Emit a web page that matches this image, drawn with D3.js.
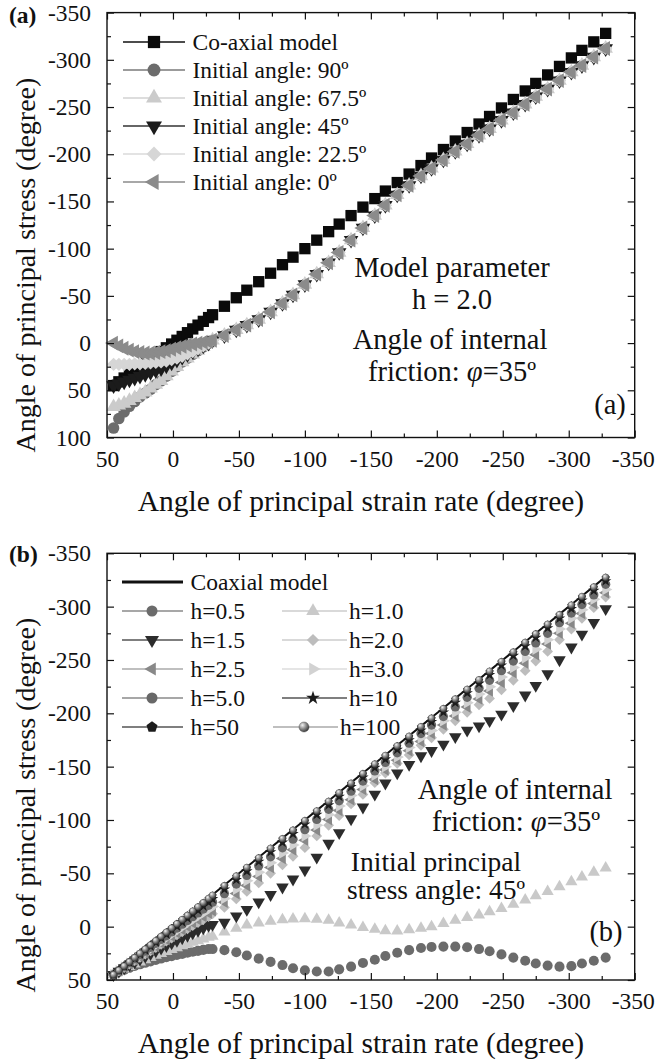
<!DOCTYPE html>
<html><head><meta charset="utf-8">
<script src="https://cdn.jsdelivr.net/npm/d3@7/dist/d3.min.js"></script>
<style>html,body{margin:0;padding:0;background:#fff;}</style>
</head><body>
<svg id="chart" width="655" height="1062" xmlns="http://www.w3.org/2000/svg"></svg>
<script>
// ---------------- DATA ----------------
// Angle of principal strain rate (x), shared by every series
const strainAngle = [45,41,37,33,29,25,21,17,13,9,5,1,-3,-7,-11,-15,-19,-23,-27,
  -30,-39,-48,-56,-65,-74,-83,-91,-100,-109,-118,-126,-135,-144,-153,-161,-170,-179,-188,
  -196,-205,-214,-223,-232,-240,-249,-258,-267,-275,-284,-293,-302,-310,-319,-328];
// Co-axial model: stress angle equals strain-rate angle
const coaxialStress = [45,41,37,33,29,25,21,17,13,9,5,1,-3,-7,-11,-15,-19,-23,-27,
  -30,-39,-48,-56,-65,-74,-83,-91,-100,-109,-118,-126,-135,-144,-153,-161,-170,-179,-188,
  -196,-205,-214,-223,-232,-240,-249,-258,-267,-275,-284,-293,-302,-310,-319,-328];

// Panel (a): h = 2.0, different initial angles (all converge onto one curve)
const convergedTailA = [-3,-8,-14,-19,-25,-33,-42,-51,-62,-73,-85,-96,-109,-122,-135,-146,-157,
  -167,-177,-185,-194,-203,-211,-220,-227,-236,-244,-253,-261,-269,-278,-287,-294,-303,-312];
const init90  = [90,80,73,67,62,57,53,49,44,40,35,30,25,20,16,12,8,4,0, ...convergedTailA];
const init675 = [67.5,66,64,61,58,55,52,48,44,40,35,30,25,20,16,12,8,4,0, ...convergedTailA];
const init45  = [45,43,41,39,37,35,33,31,29,27,24,21,18,15,12,9,6,3,0, ...convergedTailA];
const init225 = [22.5,22.5,22.5,22.5,22,22,21.5,21,20.5,20,19,17.5,16,14,11.5,9,6,3,0, ...convergedTailA];
const init0   = [0,3,5.5,7.5,9,10,10.5,10.5,10,9,8,6.5,5,3.5,2,1,0,-1,-1.5, ...convergedTailA];

// Panel (b): initial angle 45, different h
const h05  = [45,42.5,40.5,38.6,36.9,35.3,33.9,32.5,31.1,29.9,28.7,27.6,26.5,25.5,24.5,23.5,22.7,21.8,21,
  21,22,24,27,30,33,36,39,41,42,42,40,37.5,34,31,27.5,24.5,22,20,19,18.7,18.7,19.3,21,23,26,29,32,34.5,36.5,37.5,37,34.5,32,29];
const h10  = [45,42.1,39.7,37.3,35.1,33,30.9,28.9,26.9,25.1,23.3,21.5,19.8,18,16.4,14.7,13.1,11.6,10,
  9,5,1.5,-1.5,-3.5,-5,-6.5,-7.2,-7.5,-7,-6,-3.5,-1.5,0.7,2.5,3.8,4,3,1.5,0,-3,-6,-8.5,-11,-14,-17,-21,-25,-29,-33,-37.5,-42,-46.5,-51,-55];
const h15  = [45,41.8,38.9,36,33.3,30.6,28,25.4,22.8,20.3,17.8,15.4,13,10.6,8.2,5.9,3.6,1.3,-1,
  -2,-4,-10,-16,-23,-30,-37,-44.5,-53,-65,-78,-88,-101,-112,-124,-134.5,-144,-152,-160,-165,-171,-178,-184,-188,-193,-199,-207,-217,-226,-237,-250,-262,-274,-285,-298];
const h20  = [45,41.5,38.3,35,31.9,28.8,25.7,22.6,19.6,16.6,13.6,10.7,7.8,4.8,2,-0.9,-3.8,-6.7,-9.5,
  -12,-18,-26,-33,-41,-50,-58,-66,-74,-85,-95,-104,-115,-124,-135,-144,-153,-161,-170,-177,-185,-193,-201,-208,-214,-222,-231,-240,-249,-258,-269,-279,-289,-299,-309];
const h25  = [45,41.4,38,34.7,31.4,28.1,24.9,21.7,18.5,15.3,12.2,9,5.9,2.8,-0.3,-3.4,-6.4,-9.5,-12.5,
  -15,-23,-31,-38.5,-47,-55.5,-64,-72,-81,-90.5,-100.5,-109,-119,-128.5,-138,-147,-156,-165,-173.5,-181,-189,-197.5,-206,-213.5,-221,-229,-238,-247,-255,-265,-275,-284.5,-293.5,-303,-313];
const h30  = [45,41.3,37.8,34.3,30.8,27.4,23.9,20.5,17.1,13.8,10.4,7.1,3.8,0.4,-2.9,-6.2,-9.5,-12.7,-16,
  -19,-26.5,-35,-43,-51,-60,-69,-76.5,-85,-95,-105,-113,-123,-132,-142,-150,-159,-168,-177,-184,-193,-201,-210,-218,-225,-234,-243,-252,-260,-269,-279,-289,-297,-307,-316];
const h50  = [45,41.2,37.5,33.8,30.1,26.5,22.9,19.3,15.6,12,8.5,4.9,1.3,-2.3,-5.8,-9.4,-12.9,-16.5,-20,
  -23,-31,-40,-48,-57,-65.5,-74,-82,-91,-100.5,-110,-118,-127,-136.5,-146,-154,-163,-172,-181,-189,-197,-206,-215,-223.5,-231,-240,-249,-258,-266,-275,-285,-294,-302,-311,-321];
const h100 = [45,41.1,37.3,33.5,29.7,25.9,22.1,18.3,14.5,10.7,7,3.2,-0.5,-4.3,-8,-11.8,-15.5,-19.3,-23,
  -26,-35,-44,-52,-61,-70,-79,-87,-96,-105,-114,-122,-131,-140,-149,-157,-166,-175,-184,-192,-201,-210,-219,-228,-236,-245,-254,-263,-271,-280,-289,-298,-306,-315,-324];
const h500 = [45,41,37.1,33.1,29.2,25.2,21.3,17.3,13.4,9.4,5.5,1.6,-2.4,-6.3,-10.3,-14.2,-18.1,-22.1,-26,
  -29,-38,-47,-55,-64,-73,-82,-90,-99,-108,-117,-125,-134,-143,-152,-160,-169,-178,-187,-195,-204,-213,-222,-231,-239,-248,-257,-266,-274,-283,-292,-301,-309,-318,-327];
const h1000 = [45,41,37,33.1,29.1,25.1,21.1,17.2,13.2,9.2,5.2,1.3,-2.7,-6.7,-10.6,-14.6,-18.6,-22.5,-26.5,
  -29.5,-38.5,-47.5,-55.5,-64.5,-73.5,-82.5,-90.5,-99.5,-108.5,-117.5,-125.5,-134.5,-143.5,-152.5,-160.5,-169.5,-178.5,-187.5,-195.5,-204.5,-213.5,-222.5,-231.5,-239.5,-248.5,-257.5,-266.5,-274.5,-283.5,-292.5,-301.5,-309.5,-318.5,-327.5];

// Tick labels
const xTicks = [50,0,-50,-100,-150,-200,-250,-300,-350];
const xMinorTicks = [25,-25,-75,-125,-175,-225,-275,-325];
const yTicksA = [-350,-300,-250,-200,-150,-100,-50,0,50,100];
const yMinorTicksA = [-325,-275,-225,-175,-125,-75,-25,25,75];
const yTicksB = [-350,-300,-250,-200,-150,-100,-50,0,50];
const yMinorTicksB = [-325,-275,-225,-175,-125,-75,-25,25];

const legendA = ["Co-axial model","Initial angle: 90º","Initial angle: 67.5º","Initial angle: 45º","Initial angle: 22.5º","Initial angle: 0º"];
const legendB = ["Coaxial model","h=0.5","h=1.0","h=1.5","h=2.0","h=2.5","h=3.0","h=5.0","h=10","h=50","h=100"];
const xTitle = "Angle of principal strain rate (degree)";
const yTitle = "Angle of principal stress (degree)";

// ---------------- DRAWING ----------------
const FONT = '"Liberation Serif","Times New Roman",Times,serif';
const svg = d3.select("#chart");
const defs = svg.append("defs");
const grad = defs.append("radialGradient").attr("id","sphere").attr("cx","35%").attr("cy","32%").attr("r","70%");
grad.append("stop").attr("offset","0%").attr("stop-color","#f2f2f2");
grad.append("stop").attr("offset","45%").attr("stop-color","#9a9a9a");
grad.append("stop").attr("offset","100%").attr("stop-color","#3a3a3a");

const symRhombus = {draw(c,s){const r=Math.sqrt(s/2);c.moveTo(0,-r);c.lineTo(r,0);c.lineTo(0,r);c.lineTo(-r,0);c.closePath();}};
const symPentagon = {draw(c,s){const r=Math.sqrt(s/2.3776);for(let i=0;i<5;i++){const a=-Math.PI/2+i*2*Math.PI/5;const px=r*Math.cos(a),py=r*Math.sin(a);if(i===0)c.moveTo(px,py);else c.lineTo(px,py);}c.closePath();}};

const LEFT = 107, RIGHT = 634.7;
const x = d3.scaleLinear().domain([50,-350]).range([LEFT,RIGHT]);

function drawAxes(y, top, bottom, yT, yM){
  const g = svg.append("g");
  const styl = sel => { sel.select(".domain").remove();
    sel.attr("font-size",null).attr("font-family",null);
    sel.selectAll("line").attr("stroke","#111").attr("stroke-width",1.2);
    sel.selectAll("text").attr("font-size",23.5).attr("font-family",FONT).attr("fill","#111"); };
  // bottom
  g.append("g").attr("transform",`translate(0,${bottom})`)
    .call(d3.axisBottom(x).tickValues(xTicks).tickSizeInner(-7).tickSizeOuter(0).tickPadding(12.5).tickFormat(d=>String(d))).call(styl)
    .selectAll("text").filter(d=>d===-350).attr("dx",-2);
  g.append("g").attr("transform",`translate(0,${bottom})`)
    .call(d3.axisBottom(x).tickValues(xMinorTicks).tickSizeInner(-4).tickSizeOuter(0).tickFormat("")).call(styl);
  // top
  g.append("g").attr("transform",`translate(0,${top})`)
    .call(d3.axisTop(x).tickValues(xTicks).tickSizeInner(-7).tickSizeOuter(0).tickFormat("")).call(styl);
  g.append("g").attr("transform",`translate(0,${top})`)
    .call(d3.axisTop(x).tickValues(xMinorTicks).tickSizeInner(-4).tickSizeOuter(0).tickFormat("")).call(styl);
  // left
  g.append("g").attr("transform",`translate(${LEFT},0)`)
    .call(d3.axisLeft(y).tickValues(yT).tickSizeInner(-7).tickSizeOuter(0).tickPadding(16).tickFormat(d=>String(d))).call(styl);
  g.append("g").attr("transform",`translate(${LEFT},0)`)
    .call(d3.axisLeft(y).tickValues(yM).tickSizeInner(-4).tickSizeOuter(0).tickFormat("")).call(styl);
  // right
  g.append("g").attr("transform",`translate(${RIGHT},0)`)
    .call(d3.axisRight(y).tickValues(yT).tickSizeInner(-7).tickSizeOuter(0).tickFormat("")).call(styl);
  g.append("g").attr("transform",`translate(${RIGHT},0)`)
    .call(d3.axisRight(y).tickValues(yM).tickSizeInner(-4).tickSizeOuter(0).tickFormat("")).call(styl);
}
function frame(top,bottom){
  svg.append("rect").attr("x",LEFT).attr("y",top).attr("width",RIGHT-LEFT).attr("height",bottom-top)
    .attr("fill","none").attr("stroke","#111").attr("stroke-width",1.4);
}
function markers(g, y, ys, st){
  const gen = d3.symbol().type(st.type).size(st.size);
  g.append("g").selectAll("path").data(d3.zip(strainAngle, ys)).join("path")
    .attr("d", gen)
    .attr("transform", d=>`translate(${x(d[0])},${y(d[1])}) rotate(${st.rot||0})`)
    .attr("fill", st.fill).attr("stroke", st.stroke||"none").attr("stroke-width", st.sw||0);
}
function legendItem(x0, x1, xm, xt, yy, label, st, fs){
  svg.append("line").attr("x1",x0).attr("x2",x1).attr("y1",yy).attr("y2",yy)
    .attr("stroke",st.line).attr("stroke-width",st.lw||1.3);
  if(st.type){
    svg.append("path").attr("d", d3.symbol().type(st.type).size(st.lsize||st.size*1.3)())
      .attr("transform",`translate(${xm},${yy}) rotate(${st.rot||0})`)
      .attr("fill",st.fill).attr("stroke",st.stroke||"none").attr("stroke-width",st.sw||0);
  }
  svg.append("text").attr("x",xt).attr("y",yy).attr("dy","0.33em")
    .attr("font-family",FONT).attr("font-size",fs).attr("fill","#111").text(label);
}
function annot(xc, yc, txt, fs, anchor){
  return svg.append("text").attr("x",xc).attr("y",yc).attr("dy","0.33em").attr("text-anchor",anchor||"middle")
    .attr("font-family",FONT).attr("font-size",fs).attr("fill","#111").text(txt);
}
function frictionText(xc, yc, fs){
  const t = svg.append("text").attr("x",xc).attr("y",yc).attr("dy","0.33em").attr("text-anchor","middle")
    .attr("font-family",FONT).attr("font-size",fs).attr("fill","#111");
  t.append("tspan").text("friction:  ");
  t.append("tspan").attr("font-style","italic").text("φ");
  t.append("tspan").text("=35º");
}
function titles(top,bottom,yc){
  svg.append("text").attr("x",361).attr("y",bottom+73).attr("text-anchor","middle")
    .attr("font-family",FONT).attr("font-size",29.5).attr("fill","#111").text(xTitle);
  svg.append("text").attr("transform",`translate(26,${yc}) rotate(-90)`).attr("dy","0.33em").attr("text-anchor","middle")
    .attr("font-family",FONT).attr("font-size",28).attr("fill","#111").text(yTitle);
}

// ===== Panel (a) =====
const TOPA = 12.6, BOTA = 437.5;
const yA = d3.scaleLinear().domain([-350,100]).range([TOPA,BOTA]);
const stylesA = [
  {type:d3.symbolSquare,   size:128, fill:"#0a0a0a", line:"#111", lsize:150},
  {type:d3.symbolCircle,   size:104, fill:"#6c6c6c", line:"#7a7a7a", lsize:130},
  {type:d3.symbolTriangle, size:92,  fill:"#cbcbcb", line:"#d2d2d2", lsize:110},
  {type:d3.symbolTriangle, size:92,  rot:180, fill:"#1b1b1b", line:"#333", lsize:110},
  {type:symRhombus,        size:88,  fill:"#d6d6d6", line:"#dadada", lsize:110},
  {type:d3.symbolTriangle, size:96,  rot:-90, fill:"#8b8b8b", line:"#8b8b8b", lsize:110}
];
const seriesA = [coaxialStress, init90, init675, init45, init225, init0];
const gA = svg.append("g");
seriesA.forEach((ys,i)=>markers(gA, yA, ys, stylesA[i]));
drawAxes(yA, TOPA, BOTA, yTicksA, yMinorTicksA);
frame(TOPA, BOTA);
const rowsA = [42,70,98,126,154,182];
legendA.forEach((lab,i)=>legendItem(123,185,154,192.5,rowsA[i],lab,stylesA[i],23.5));
annot(452,268,"Model parameter",28.5);
annot(452,300,"h = 2.0",28.5);
annot(450,340,"Angle of internal",28.5);
frictionText(452,372,28.5);
annot(610,405,"(a)",28.5);
svg.append("text").attr("x",9).attr("y",15).attr("dy","0.33em").attr("font-family",FONT)
  .attr("font-size",23.5).attr("font-weight","bold").attr("fill","#111").text("(a)");
titles(TOPA, BOTA, 265);

// ===== Panel (b) =====
const TOPB = 553.3, BOTB = 980;
const yB = d3.scaleLinear().domain([-350,50]).range([TOPB,BOTB]);
const gB = svg.append("g");
gB.append("path").datum(d3.zip(strainAngle, coaxialStress))
  .attr("d", d3.line().x(d=>x(d[0])).y(d=>yB(d[1])))
  .attr("fill","none").attr("stroke","#111").attr("stroke-width",2);
const stylesB = [
  {type:d3.symbolCircle,   size:80, fill:"#6b6b6b", line:"#8a8a8a", lsize:95},
  {type:d3.symbolTriangle, size:64, fill:"#c9c9c9", line:"#cccccc", lsize:80},
  {type:d3.symbolTriangle, size:68, rot:180, fill:"#2c2c2c", line:"#555", lsize:85},
  {type:symRhombus,        size:58, fill:"#bdbdbd", line:"#cccccc", lsize:75},
  {type:d3.symbolTriangle, size:58, rot:-90, fill:"#888888", line:"#aaaaaa", lsize:75},
  {type:d3.symbolTriangle, size:58, rot:90, fill:"#d2d2d2", line:"#dddddd", lsize:75},
  {type:d3.symbolCircle,   size:68, fill:"#686868", line:"#8a8a8a", lsize:95},
  {type:d3.symbolStar,     size:40, fill:"#1c1c1c", line:"#555", lsize:60},
  {type:symPentagon,       size:44, fill:"#1c1c1c", line:"#555", lsize:80},
  {type:d3.symbolCircle,   size:36, fill:"url(#sphere)", stroke:"#444", sw:0.4, line:"#aaaaaa", lsize:80}
];
const seriesB = [h05,h10,h15,h20,h25,h30,h50,h100,h500,h1000];
seriesB.forEach((ys,i)=>markers(gB, yB, ys, stylesB[i]));
drawAxes(yB, TOPB, BOTB, yTicksB, yMinorTicksB);
frame(TOPB, BOTB);
const rowsB = [582,611,640,669,698,727];
// coaxial legend entry (line only)
legendItem(122,183,152,190.5,rowsB[0],legendB[0],{line:"#111",lw:3},23.5);
// left column: h=0.5,1.5,2.5,5.0,50 ; right column: h=1.0,2.0,3.0,10,100
const leftIdx = [0,2,4,6,8], rightIdx = [1,3,5,7,9];
leftIdx.forEach((k,r)=>legendItem(122,183,152,190.5,rowsB[r+1],legendB[k+1],stylesB[k],23.5));
rightIdx.forEach((k,r)=>{
  const sh = (k===9) ? -9 : 0;
  legendItem(282+sh,347+sh,313+sh,349+sh,rowsB[r+1],legendB[k+1],stylesB[k],23.5);
});
annot(515,790,"Angle of internal",28.5);
frictionText(516,822,28.5);
annot(436,862,"Initial principal",27.5);
annot(436,890,"stress angle: 45º",27.5);
annot(606,932,"(b)",28.5);
svg.append("text").attr("x",9).attr("y",554).attr("dy","0.33em").attr("font-family",FONT)
  .attr("font-size",23.5).attr("font-weight","bold").attr("fill","#111").text("(b)");
titles(TOPB, BOTB, 805);
</script>
</body></html>
